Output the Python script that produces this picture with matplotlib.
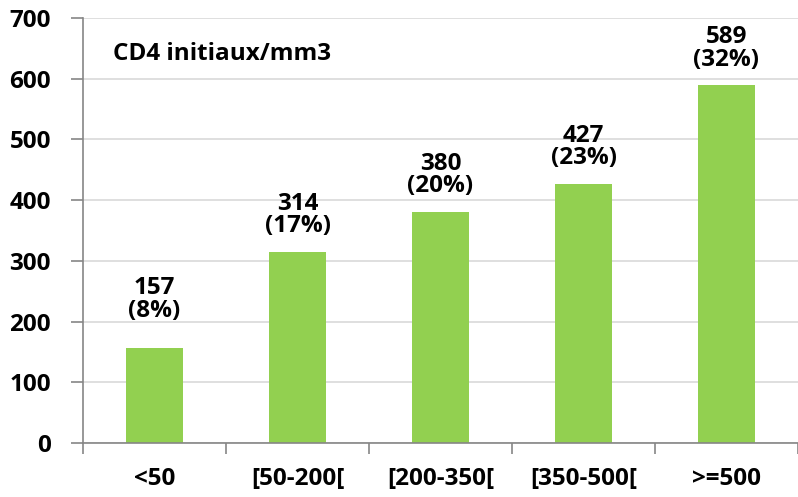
import matplotlib
matplotlib.use("Agg")
import matplotlib.pyplot as plt

categories = ["<50", "[50-200[", "[200-350[", "[350-500[", ">=500"]
counts = [157, 314, 380, 427, 589]
percents = [8, 17, 20, 23, 32]
y_ticks = [0, 100, 200, 300, 400, 500, 600, 700]

# vertical gap (points) between each bar top and its value label
label_gaps = [18, 10, 10, 10, 10]

plt.rcParams["font.family"] = ["Open Sans", "DejaVu Sans"]

fig = plt.figure(figsize=(7.98, 4.97), dpi=100)
ax = fig.add_axes([83 / 798, 54 / 497, 715 / 798, 425 / 497])

x = list(range(len(categories)))
ax.bar(x, counts, width=0.4, color="#92D050", zorder=3)

for xi, c, p, g in zip(x, counts, percents, label_gaps):
    ax.annotate(f"{c}\n({p}%)", xy=(xi, c), xytext=(0, g), textcoords="offset points",
                ha="center", va="bottom", fontsize=17.5, fontweight="bold",
                linespacing=0.9, color="black")

ax.set_ylim(0, 700)
ax.set_xlim(-0.5, -0.5 + 715 / 144)
ax.set_yticks(y_ticks)
ax.set_yticklabels([str(v) for v in y_ticks], fontsize=17.5, fontweight="bold")

# category labels centred, tick marks on category boundaries
ax.set_xticks(x)
ax.set_xticklabels(categories, fontsize=17.5, fontweight="bold")
ax.tick_params(axis="x", which="major", length=0, pad=17)
ax.set_xticks([i - 0.5 for i in range(len(categories) + 1)], minor=True)
ax.tick_params(axis="x", which="minor", length=8, color="#868686", width=1.2)
ax.tick_params(axis="y", length=9, color="#868686", width=1.2, pad=14)

ax.grid(axis="y", color="#d9d9d9", linewidth=1.2, zorder=0)
for side in ("top", "right"):
    ax.spines[side].set_visible(False)
for side in ("left", "bottom"):
    ax.spines[side].set_color("#868686")
    ax.spines[side].set_linewidth(1.2)
    ax.spines[side].set_zorder(4)

ax.text(0.042, 0.915, "CD4 initiaux/mm3", transform=ax.transAxes, fontsize=17.5,
        fontweight="bold", ha="left", va="center")

fig.savefig("out.png", dpi=100)
